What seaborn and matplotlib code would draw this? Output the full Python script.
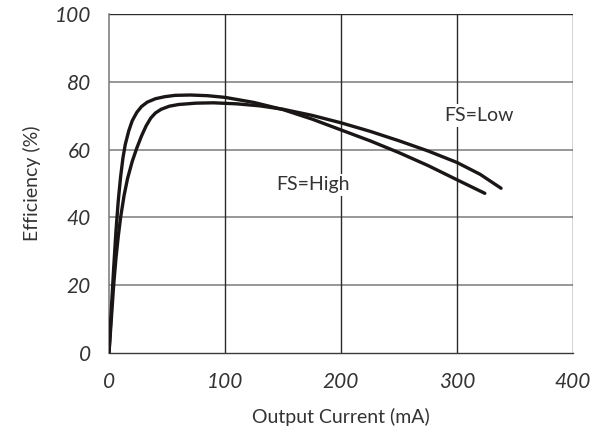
import matplotlib
matplotlib.use("Agg")
import matplotlib.pyplot as plt
import seaborn as sns
import pandas as pd

# Efficiency vs. output current, read at the plotted points
current_high = [0, 2, 4, 6, 8, 10, 12, 14, 17, 20, 24, 28, 33, 40, 48, 57, 70, 85,
                100, 125, 150, 175, 200, 225, 250, 275, 300, 324]
eff_high = [0, 13, 25, 36, 45, 52, 57.5, 61.5, 65.5, 68.5, 71, 72.7, 74, 75, 75.6, 76,
            76.1, 75.9, 75.4, 73.9, 71.8, 69.0, 65.8, 62.6, 59.1, 55.3, 51.1, 47.1]

current_low = [0, 2, 4, 6, 8, 10, 13, 16, 20, 24, 28, 32, 36, 40, 45, 52, 60, 75, 90,
               110, 130, 150, 175, 200, 225, 250, 275, 300, 320, 338]
eff_low = [0, 10, 20, 28, 34.5, 40, 46.5, 51.5, 56.5, 60.5, 64, 67, 69.3, 70.8, 71.9,
           72.8, 73.3, 73.7, 73.8, 73.5, 72.9, 71.9, 70.1, 67.9, 65.4, 62.6, 59.6,
           56.2, 52.7, 48.6]

x_ticks = [0, 100, 200, 300, 400]
y_ticks = [0, 20, 40, 60, 80, 100]

df = pd.concat([
    pd.DataFrame({"current": current_high, "eff": eff_high, "mode": "FS=High"}),
    pd.DataFrame({"current": current_low, "eff": eff_low, "mode": "FS=Low"}),
])

sns.set_style("white")
plt.rcParams["font.family"] = ["Lato", "DejaVu Sans"]

TEXT = "#333333"

fig = plt.figure(figsize=(6.08, 4.41), dpi=100)
ax = fig.add_axes([0.1793, 0.1995, 0.9424 - 0.1793, 0.9683 - 0.1995])

sns.lineplot(data=df, x="current", y="eff", units="mode", estimator=None,
             sort=False, color="#1a1616", linewidth=2.4, ax=ax, legend=False,
             zorder=5)
for line in ax.lines:
    line.set_solid_joinstyle("round")
    line.set_solid_capstyle("round")

ax.set_xlim(0, 400)
ax.set_ylim(0, 100)
ax.set_xticks(x_ticks)
ax.set_yticks(y_ticks)

# grid: gray inner horizontals, dark verticals and top edge
for y in y_ticks[1:-1]:
    ax.axhline(y, color="#7a7a7a", lw=1.1, zorder=1)
ax.axhline(100, color="#2a2a2a", lw=1.0, zorder=1)
for x in x_ticks[1:]:
    ax.axvline(x, color="#2a2a2a", lw=1.0, zorder=1)

for side in ["top", "right"]:
    ax.spines[side].set_visible(False)
ax.spines["left"].set_color("#777777")
ax.spines["left"].set_linewidth(1.1)
ax.spines["bottom"].set_color("#3a3a3a")
ax.spines["bottom"].set_linewidth(1.0)

ax.tick_params(axis="y", direction="out", length=10, width=1.1, color="#555555",
               labelsize=15, labelcolor=TEXT, pad=3)
ax.tick_params(axis="x", direction="out", length=8, width=1.0, color="#333333",
               labelsize=15, labelcolor=TEXT, pad=6)
for lab in ax.get_xticklabels() + ax.get_yticklabels():
    lab.set_fontstyle("italic")

ax.set_xlabel("Output Current (mA)", fontsize=14, color=TEXT, labelpad=11)
ax.set_ylabel("Efficiency (%)", fontsize=14, color=TEXT, labelpad=10)

box = dict(facecolor="white", edgecolor="none", pad=2)
ax.text(176, 49.6, "FS=High", fontsize=14, color=TEXT,
        ha="center", va="center", bbox=box, zorder=4)
ax.text(319, 70, "FS=Low", fontsize=14, color=TEXT,
        ha="center", va="center", bbox=box, zorder=4)

fig.savefig("out.png", dpi=100)
